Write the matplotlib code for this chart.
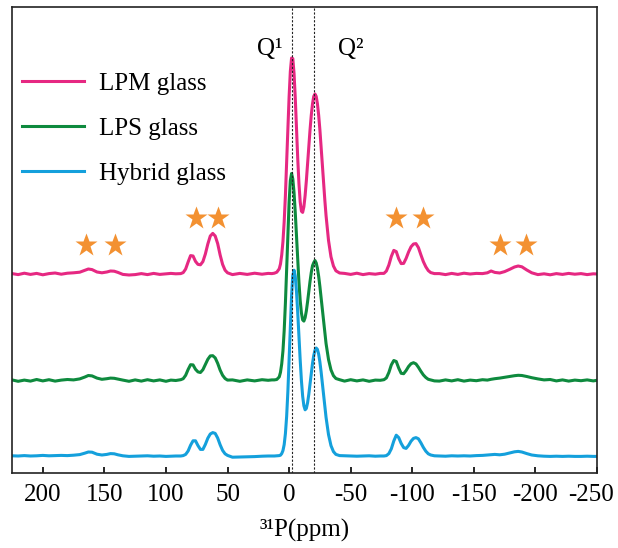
import matplotlib
matplotlib.use('Agg')
import matplotlib.pyplot as plt
from matplotlib.transforms import ScaledTranslation

plt.rcParams['font.family'] = ['Liberation Serif', 'DejaVu Serif']
plt.rcParams['axes.unicode_minus'] = False

# chemical shift grid (ppm), shared by the three spectra
shift_ppm = [
    225, 220, 215, 210, 205, 200, 195, 190, 185, 180, 175, 170, 166, 163, 160, 156,
    152, 148, 145, 142, 139, 135, 130, 125, 120, 115, 110, 105, 100, 96, 92,
    88, 86, 84, 82, 80, 78, 76, 74, 72, 70, 68, 66, 64, 62, 60, 58, 56, 54, 52, 50,
    46, 40, 34, 28, 22, 17, 14,
    12, 10, 8, 7, 6, 5, 4, 3, 2, 1, 0, -1, -2, -3, -4, -5, -6, -7, -8, -9, -10,
    -11, -12, -13, -14, -15, -16, -17, -18, -19, -20, -21, -22, -23, -24, -25,
    -26, -27, -28, -29, -30, -32, -34, -36, -38, -41,
    -45, -50, -55, -60, -65, -70, -74,
    -77, -79, -81, -83, -85, -87, -89, -91, -93, -95, -97, -99, -101, -103, -105,
    -107, -109, -111, -113, -115, -118,
    -122, -127, -132, -137, -142, -147, -152, -157, -161, -164, -167, -171, -175,
    -179, -183, -186, -189, -193, -197, -202, -207, -212, -217, -222, -227, -232,
    -237, -242, -247, -250,
]

lpm = [
    0.2, -0.3, 0.4, -0.2, 0.3, -0.4, 0.2, 0.5, -0.1, 0.4, 0.6, 0.9, 1.8, 2.5, 2.2, 1.0,
    0.6, 1.0, 1.5, 1.4, 0.8, -0.2, -0.5, -0.3, 0.2, -0.3, 0.3, -0.2, 0.1, 0.3, 0.1,
    0.2, 0.7, 2.5, 6.0, 9.2, 9.0, 6.3, 4.8, 4.6, 6.2, 10.0, 15.0, 19.0, 20.3, 19.0, 15.2,
    9.5, 4.8, 1.9, 0.6,
    -0.3, 0.3, -0.2, 0.4, -0.1, 0.3, 0.2,
    0.4, 0.9, 2.6, 5.0, 9.5, 16.2, 26.1, 39.3, 55.2, 72.4, 88.6, 101.3, 108.0,
    107.7, 100.4, 88.1, 72.9, 57.8, 45.1, 36.1, 31.4,
    30.8, 33.6, 39.2, 46.6, 55.0, 63.6, 72.1, 79.4, 85.1, 88.8,
    90.0, 88.8, 85.1, 79.4, 72.1, 63.6, 54.6, 45.6, 37.0, 29.2,
    16.8, 8.6, 4.0, 1.6, 0.5,
    0.3, -0.2, 0.4, -0.3, 0.2, -0.1, 0.3,
    0.3, 1.5, 4.5, 8.8, 11.8, 11.2, 7.6, 5.2, 5.3, 7.8, 11.0, 13.6, 15.0, 15.2, 13.2,
    9.6, 6.2, 3.6, 1.7, 0.7, 0.2,
    0.2, -0.3, 0.3, -0.2, 0.4, 0.0, 0.3, 0.2, 0.6, 1.5, 0.8, 0.5, 1.2,
    2.3, 3.5, 4.0, 3.6, 2.0, 0.6, -0.3, 0.1, -0.4, 0.2, -0.2, 0.3, -0.1,
    0.2, -0.3, 0.1, 0.0,
]

lps = [
    0.3, -0.4, 0.2, -0.3, 0.5, -0.2, 0.4, -0.3, 0.2, 0.5, 0.3, 0.8, 1.7, 2.5, 2.3, 1.2,
    0.6, 0.9, 1.2, 1.1, 0.7, 0.2, -0.4, 0.3, -0.3, 0.4, -0.2, 0.3, -0.4, 0.2, 0.0,
    0.4, 0.9, 2.6, 5.5, 7.9, 7.8, 5.6, 4.3, 4.0, 5.4, 8.0, 10.6, 12.3, 12.4, 11.3, 8.6,
    5.2, 2.6, 1.0, 0.2,
    0.3, -0.4, 0.3, -0.2, 0.4, 0.1, 0.3,
    0.3, 0.5, 1.8, 4.1, 8.3, 14.8, 24.9, 38.7, 55.4, 73.1, 89.1, 99.9, 103.5,
    100.8, 94.0, 84.0, 72.2, 60.0, 49.0, 40.0, 33.8,
    30.3, 29.7, 31.4, 34.8, 39.4, 44.5, 49.6, 54.0, 57.4, 58.9,
    60.0, 58.8, 56.1, 52.1, 47.0, 41.2, 35.2, 29.2, 23.6, 18.5,
    10.5, 5.3, 2.4, 1.0, 0.4,
    -0.3, 0.4, -0.2, 0.3, -0.4, 0.2, 0.1,
    0.4, 1.3, 4.0, 7.8, 10.0, 9.5, 6.2, 3.6, 3.4, 5.0, 7.0, 8.4, 8.9, 8.3, 6.6,
    4.6, 2.8, 1.5, 0.6, 0.3, -0.2,
    -0.3, 0.3, -0.2, 0.4, -0.3, 0.2, -0.1, 0.4, 0.2, 0.6, 0.9, 1.2, 1.6,
    2.0, 2.4, 2.6, 2.5, 2.0, 1.4, 0.8, 0.3, 0.5, -0.2, 0.3, -0.3, 0.2,
    -0.1, 0.3, -0.2, 0.1,
]

hybrid = [
    0.1, 0.0, 0.2, 0.0, 0.1, 0.3, 0.1, 0.2, 0.3, 0.2, 0.4, 0.7, 1.4, 2.0, 1.9, 0.9,
    0.5, 0.8, 1.2, 1.1, 0.6, 0.1, -0.2, -0.1, 0.0, 0.1, -0.1, 0.0, -0.2, -0.1, 0.0,
    0.0, 0.2, 0.8, 2.5, 5.4, 7.6, 7.6, 5.2, 3.3, 3.3, 5.8, 8.9, 11.0, 11.7, 11.3, 9.0,
    5.6, 2.8, 1.1, 0.3,
    -0.6, -0.5, -0.4, -0.3, -0.1, 0.0, 0.0,
    0.0, 0.1, 0.2, 0.4, 1.2, 2.7, 5.7, 11.2, 19.8, 32.3, 47.9, 64.9, 80.2,
    90.3, 92.9, 89.9, 82.2, 71.7, 59.7, 48.0, 37.7,
    29.9, 25.1, 23.1, 23.8, 26.6, 30.9, 36.0, 41.3, 46.3, 50.2,
    52.9, 54.0, 53.3, 50.9, 47.0, 42.0, 36.3, 30.4, 24.6, 19.3,
    10.7, 5.2, 2.2, 0.8, 0.2,
    0.1, 0.0, -0.1, 0.0, 0.1, -0.1, 0.0,
    0.0, 0.2, 1.2, 3.6, 7.5, 10.4, 9.2, 6.3, 4.2, 3.8, 5.3, 7.4, 8.8, 9.2, 8.6,
    6.6, 4.3, 2.4, 1.1, 0.5, 0.1,
    0.0, -0.1, 0.1, 0.0, 0.1, 0.0, 0.2, 0.3, 0.5, 0.7, 0.8, 0.6, 0.9,
    1.5, 2.1, 2.3, 2.0, 1.2, 0.5, 0.1, -0.1, -0.2, -0.1, -0.2, -0.1, -0.2,
    -0.2, -0.1, -0.2, -0.2,
]

# spinning sidebands marked with stars
star_ppm = [165, 141, 76, 58, -87, -109, -171, -192]
star_y = [105.5, 105.5, 119, 119, 119, 119, 105.5, 105.5]

# Q1 / Q2 reference lines
q_lines = [-2.2, -20.5]

labels = ['LPM glass', 'LPS glass', 'Hybrid glass']
colors = ['#E62882', '#0E8A3E', '#14A0DC']
offsets = [91, 37.75, 0]

fig = plt.figure(figsize=(6.18, 5.48), dpi=100)
ax = fig.add_axes([12 / 618, 75 / 548, 585 / 618, 466 / 548])

for spec, lab, col, off in zip([lpm, lps, hybrid], labels, colors, offsets):
    ax.plot(shift_ppm, [v + off for v in spec], color=col, lw=2.2, label=lab)

ax.plot(star_ppm, star_y, ls='none', marker='*', ms=17, color='#F39131', mec='none')

for q in q_lines:
    ax.axvline(q, color='#222222', lw=0.8, ls=(0, (2, 1.5)))

ax.text(15.9, 200.5, 'Q¹', fontsize=18, ha='center', va='baseline')
ax.text(-49.8, 200.5, 'Q²', fontsize=18, ha='center', va='baseline')

ax.set_xlim(225, -250)
ax.set_ylim(-8.5, 224.5)
ax.set_xticks([200, 150, 100, 50, 0, -50, -100, -150, -200, -250])
ax.set_yticks([])
ax.tick_params(axis='x', direction='in', length=4, width=1.2, labelsize=18, pad=8)
for s in ax.spines.values():
    s.set_linewidth(1.2)
    s.set_color('#222222')
ax.set_xlabel('³¹P(ppm)', fontsize=18, labelpad=9)

# last tick label sits a little inside, as in the original
last = ax.get_xticklabels()[-1]
last.set_transform(last.get_transform() + ScaledTranslation(-6 / 100, 0, fig.dpi_scale_trans))

ax.legend(loc='upper left', bbox_to_anchor=(0.017, 0.86), frameon=False,
          fontsize=18, handlelength=2.5, handletextpad=0.6, labelspacing=0.9,
          borderaxespad=0, borderpad=0)

plt.savefig('out.png', dpi=100)
